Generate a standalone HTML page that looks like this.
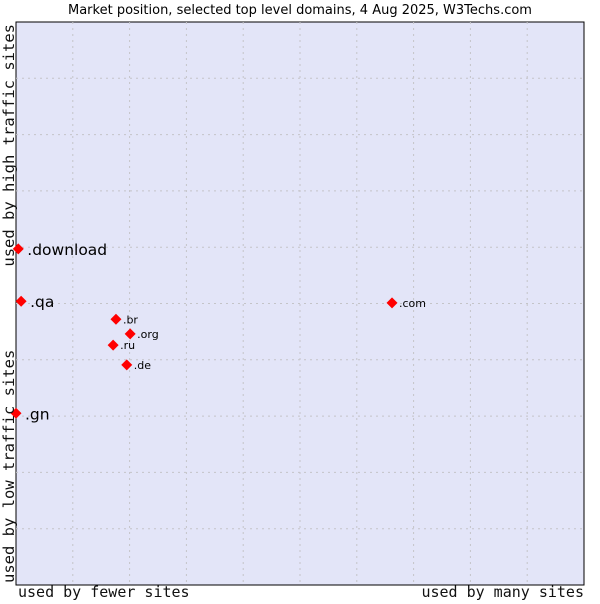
<!DOCTYPE html>
<html><head><meta charset="utf-8"><style>
body{margin:0;background:#fff;font-family:"DejaVu Sans","Liberation Sans",sans-serif}
</style></head><body>
<svg width="600" height="600" xmlns="http://www.w3.org/2000/svg">
<rect width="600" height="600" fill="#fff"/>
<text x="300" y="14" text-anchor="middle" font-size="13" font-family="DejaVu Sans, sans-serif">Market position, selected top level domains, 4 Aug 2025, W3Techs.com</text>
<rect x="16" y="22" width="568" height="563" fill="#e3e5f8" stroke="#000" stroke-width="1"/>
<g id="grid"></g>
<g id="marks"></g>
<text x="18" y="597" font-size="15" fill="#111" font-family="DejaVu Sans Mono, monospace">used by fewer sites</text>
<text x="584" y="597" text-anchor="end" font-size="15" fill="#111" font-family="DejaVu Sans Mono, monospace">used by many sites</text>
<text transform="translate(14,24) rotate(-90)" text-anchor="end" font-size="15.5" fill="#111" font-family="DejaVu Sans Mono, monospace">used by high traffic sites</text>
<text transform="translate(14,583) rotate(-90)" font-size="15.5" fill="#111" font-family="DejaVu Sans Mono, monospace">used by low traffic sites</text>
</svg>
<script>
const labels=[".download",".qa",".gn",".br",".org",".ru",".de",".com"];
const xVals=[0.04,0.09,0.0,1.76,2.01,1.71,1.95,6.62];
const yVals=[5.97,5.04,3.05,4.72,4.46,4.26,3.91,5.01];
const big=[true,true,true,false,false,false,false,false];
const L=16,R=584,T=22,B=585;
const sx=v=>L+v/10*(R-L), sy=v=>B-v/10*(B-T);
const ns="http://www.w3.org/2000/svg";
const g=document.getElementById('grid'),m=document.getElementById('marks');
for(let i=1;i<10;i++){
 let a=document.createElementNS(ns,'line');
 
 
 a.setAttribute('x1',sx(i));a.setAttribute('x2',sx(i));a.setAttribute('y1',T);a.setAttribute('y2',B);
 a.setAttribute('stroke','#c4c4c8');a.setAttribute('stroke-dasharray','2,4');g.appendChild(a);
 let b=document.createElementNS(ns,'line');
 
 
 b.setAttribute('y1',sy(i));b.setAttribute('y2',sy(i));b.setAttribute('x1',L);b.setAttribute('x2',R);
 b.setAttribute('stroke','#c4c4c8');b.setAttribute('stroke-dasharray','2,4');g.appendChild(b);
}
labels.forEach((lab,i)=>{
 const x=sx(xVals[i]),y=sy(yVals[i]);
 let p=document.createElementNS(ns,'polygon');
 
 
 p.setAttribute('points',`${x},${y-5.5} ${x+5.5},${y} ${x},${y+5.5} ${x-5.5},${y}`);
 p.setAttribute('fill','#f00');m.appendChild(p);
 let t=document.createElementNS(ns,'text');
 
 
 t.setAttribute('x',x+(big[i]?9:7));t.setAttribute('y',y+(big[i]?6:4));
 t.setAttribute('font-size',big[i]?'15.5':'11');
 t.textContent=lab;m.appendChild(t);
});
</script>
</body></html>
